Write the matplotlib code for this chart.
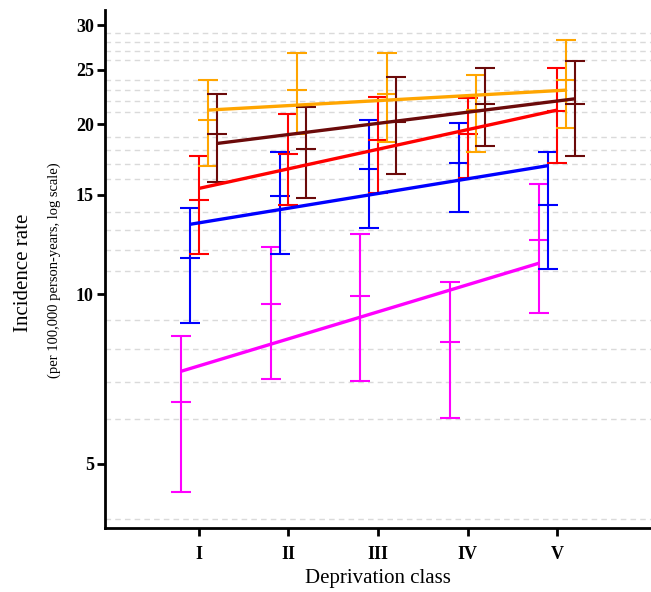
import matplotlib
matplotlib.use("Agg")
import matplotlib.pyplot as plt
from matplotlib.ticker import FixedLocator, FixedFormatter, NullFormatter

plt.rcParams["font.family"] = ["Liberation Serif", "DejaVu Serif"]

classes = ["I", "II", "III", "IV", "V"]
class_pos = [1, 2, 3, 4, 5]

# incidence rate with lower / upper 95% CI, per deprivation class
magenta_rate = [6.43, 9.60, 9.92, 8.22, 12.5]
magenta_lo = [4.46, 7.07, 7.01, 6.03, 9.25]
magenta_hi = [8.42, 12.1, 12.8, 10.5, 15.7]
magenta_trend = [7.30, 11.35]  # fitted at class I and V

blue_rate = [11.6, 14.9, 16.7, 17.1, 14.4]
blue_lo = [8.88, 11.8, 13.1, 14.0, 11.1]
blue_hi = [14.2, 17.9, 20.4, 20.1, 17.9]
blue_trend = [13.3, 16.9]

red_rate = [14.7, 17.7, 18.8, 19.2, 21.1]
red_lo = [11.8, 14.4, 15.1, 16.1, 17.1]
red_hi = [17.6, 20.9, 22.4, 22.3, 25.2]
red_trend = [15.4, 21.2]

orange_rate = [20.4, 23.0, 22.6, 21.2, 24.0]
orange_lo = [16.9, 19.2, 18.6, 17.9, 19.7]
orange_hi = [23.95, 26.8, 26.8, 24.5, 28.2]
orange_trend = [21.2, 23.0]

maroon_rate = [19.2, 18.1, 20.2, 21.7, 21.7]
maroon_lo = [15.8, 14.8, 16.3, 18.3, 17.6]
maroon_hi = [22.6, 21.5, 24.3, 25.2, 25.9]
maroon_trend = [18.5, 22.2]

major_ticks = [5, 10, 15, 20, 25, 30]
grid_vals = [4, 6, 7, 8, 9, 11, 12, 13, 14, 16, 17, 18, 19,
             21, 22, 23, 24, 26, 27, 28, 29]

series = [
    ("#ff00ff", -0.2, magenta_rate, magenta_lo, magenta_hi, magenta_trend),
    ("#0000ff", -0.1, blue_rate, blue_lo, blue_hi, blue_trend),
    ("#ff0000", 0.0, red_rate, red_lo, red_hi, red_trend),
    ("#ffa500", 0.1, orange_rate, orange_lo, orange_hi, orange_trend),
    ("#6b0a0a", 0.2, maroon_rate, maroon_lo, maroon_hi, maroon_trend),
]

fig = plt.figure(figsize=(6.51, 5.92), dpi=100)
ax = fig.add_axes([105 / 651, 64 / 592, 546 / 651, 518 / 592])

for color, off, rate, lo, hi, trend in series:
    x = [p + off for p in class_pos]
    yerr = [[r - l for r, l in zip(rate, lo)], [h - r for r, h in zip(rate, hi)]]
    ax.errorbar(x, rate, yerr=yerr, fmt="none", ecolor=color, elinewidth=1.5,
                capsize=7, capthick=1.5, zorder=3)
    ax.plot(x, rate, ls="none", marker="_", ms=14, mew=1.5, color=color, zorder=3)
    ax.plot([x[0], x[-1]], trend, color=color, lw=2.4, solid_capstyle="butt", zorder=4)

ax.set_yscale("log")
ax.set_ylim(3.85, 31.9)
ax.set_xlim(-0.05, 6.05)

ax.yaxis.set_major_locator(FixedLocator(major_ticks))
ax.yaxis.set_major_formatter(FixedFormatter([str(v) for v in major_ticks]))
ax.yaxis.set_minor_locator(FixedLocator(grid_vals))
ax.yaxis.set_minor_formatter(NullFormatter())
ax.grid(which="minor", axis="y", ls=(0, (4, 3)), color="#dadada", lw=1.0, zorder=0)
ax.set_axisbelow(True)

ax.set_xticks(class_pos)
ax.set_xticklabels(classes)

for side in ("top", "right"):
    ax.spines[side].set_visible(False)
for side in ("left", "bottom"):
    ax.spines[side].set_linewidth(2)

ax.tick_params(which="major", direction="out", length=6, width=2, labelsize=13, pad=2)
ax.tick_params(axis="x", pad=7)
ax.tick_params(which="minor", length=0)
for lab in ax.get_xticklabels() + ax.get_yticklabels():
    lab.set_fontweight("bold")

ax.set_xlabel("Deprivation class", fontsize=15, labelpad=4)
fig.text(24 / 651, 1 - 273 / 592, "Incidence rate", rotation=90, fontsize=15,
         ha="center", va="center")
fig.text(54 / 651, 1 - 270 / 592, "(per 100,000 person-years, log scale)",
         rotation=90, fontsize=10.5, ha="center", va="center")

fig.savefig("out.png", dpi=100)
